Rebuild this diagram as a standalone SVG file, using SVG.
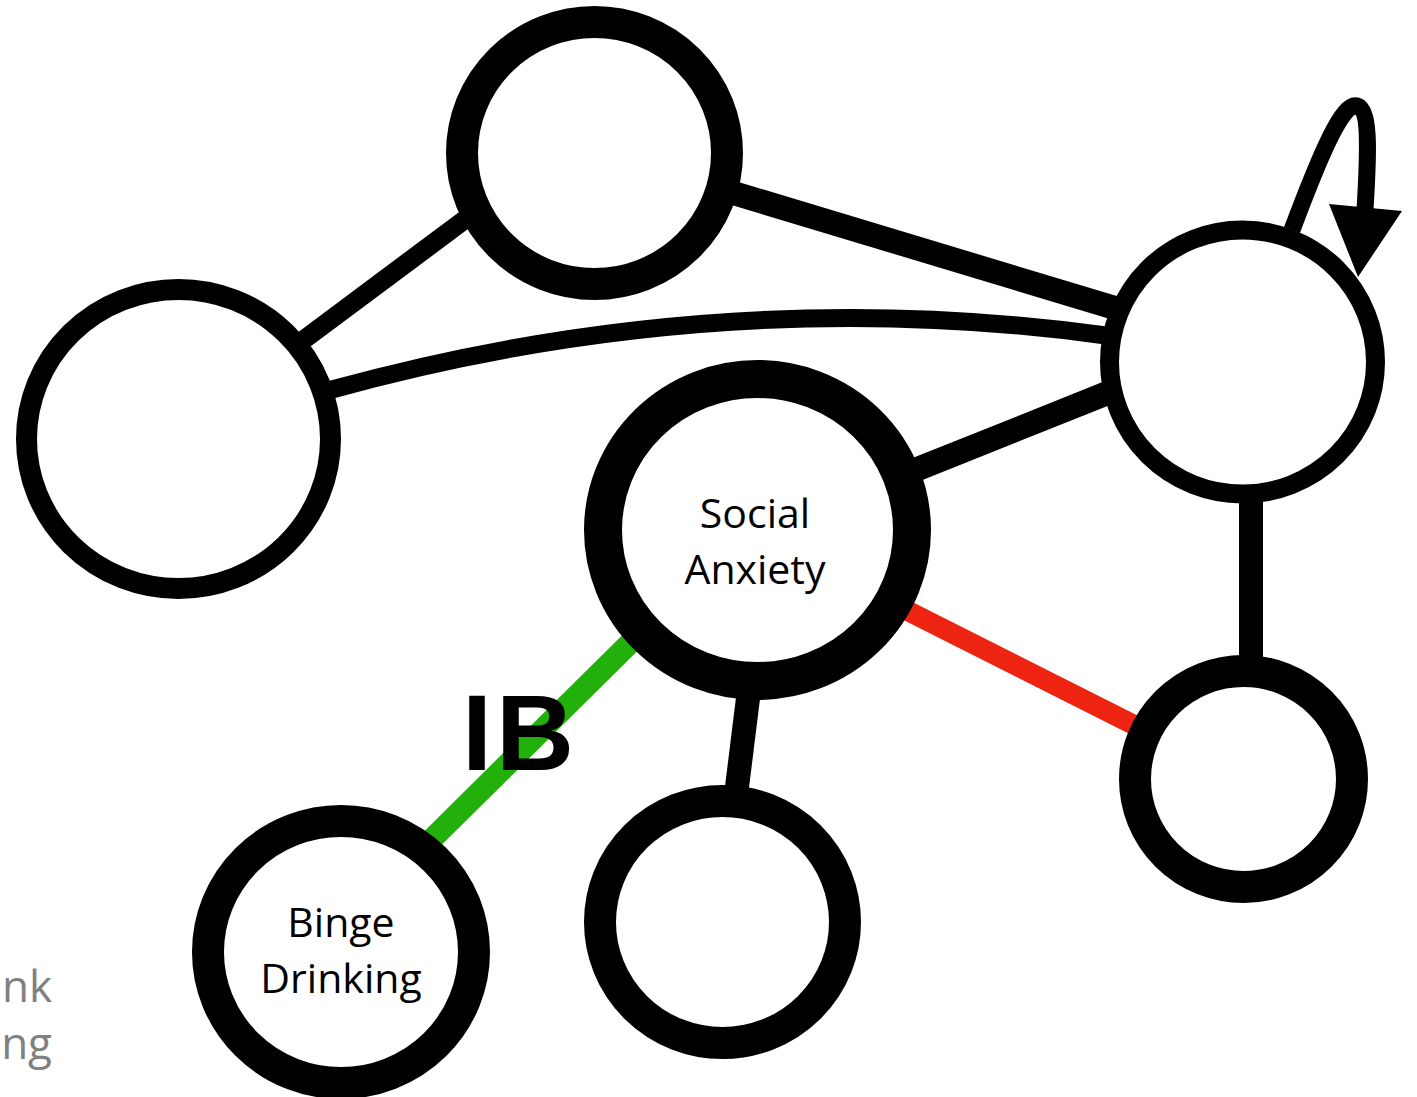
<svg xmlns="http://www.w3.org/2000/svg" width="1417" height="1097" viewBox="0 0 1417 1097">
  <style>
    .node { fill: #ffffff; stroke: #000000; }
    .edge { fill: none; stroke-linecap: butt; }
    .dark { stroke: #000000; }
    .neg { stroke: #ee2412; }
    .pos { stroke: #22b00a; }
    .label { font-family: "Open Sans", "Noto Sans", "Liberation Sans", sans-serif; font-size: 41px; fill: #000000; text-anchor: middle; }
    .faded { font-family: "Open Sans", "Noto Sans", "Liberation Sans", sans-serif; font-size: 44px; fill: #808080; text-anchor: end; }
  </style>
  <rect width="1417" height="1097" fill="#ffffff"/>

  <!-- connectors -->
  <g id="edges">
    <line class="edge dark" x1="290" y1="350" x2="475" y2="212" stroke-width="19"/>
    <line class="edge dark" x1="730" y1="192" x2="1125" y2="311" stroke-width="24"/>
    <path class="edge dark" d="M 330 390 Q 720 282 1110 336" stroke-width="18"/>
    <line class="edge dark" x1="905" y1="474" x2="1115" y2="390" stroke-width="24"/>
    <line class="edge dark" x1="1251" y1="495" x2="1251" y2="665" stroke-width="24"/>
    <line class="edge neg" x1="900" y1="607" x2="1140" y2="728" stroke-width="20"/>
    <line class="edge pos" x1="640" y1="633" x2="425" y2="846" stroke-width="22"/>
    <line class="edge dark" x1="749" y1="690" x2="736" y2="795" stroke-width="24"/>
    <path class="edge dark" d="M 1292 230 C 1322 150 1343 102 1357 106 C 1371 110 1368 160 1365 210" stroke-width="17"/>
    <polygon points="1329,204 1402,211 1358,277" fill="#000000"/>
  </g>

  <!-- nodes -->
  <g id="node-top">
    <ellipse class="node" cx="594.5" cy="153" rx="132.5" ry="131" stroke-width="32"/>
  </g>
  <g id="node-left">
    <ellipse class="node" cx="178.5" cy="439" rx="152" ry="149.5" stroke-width="21"/>
  </g>
  <g id="node-right-top">
    <ellipse class="node" cx="1242.5" cy="362" rx="133" ry="132" stroke-width="19"/>
  </g>
  <g id="node-social-anxiety">
    <ellipse class="node" cx="757.5" cy="530" rx="154.5" ry="151" stroke-width="38"/>
    <text class="label" x="755" y="528">Social</text>
    <text class="label" x="755" y="584">Anxiety</text>
  </g>
  <g id="node-right-bottom">
    <ellipse class="node" cx="1243.5" cy="779" rx="108.5" ry="108" stroke-width="32"/>
  </g>
  <g id="node-bottom-middle">
    <ellipse class="node" cx="722.5" cy="922" rx="122.5" ry="121" stroke-width="32"/>
  </g>
  <g id="node-binge-drinking">
    <ellipse class="node" cx="341" cy="952" rx="133" ry="131" stroke-width="32"/>
    <text class="label" x="341" y="937">Binge</text>
    <text class="label" x="341" y="993">Drinking</text>
  </g>

  <!-- annotation -->
  <text x="462" y="770" font-family="Liberation Sans, Arial, sans-serif" font-weight="bold" font-size="108" letter-spacing="4" fill="#000000">IB</text>

  <!-- partially visible text at the left margin -->
  <text class="faded" x="52" y="1002">nk</text>
  <text class="faded" x="52" y="1059">ng</text>
</svg>
